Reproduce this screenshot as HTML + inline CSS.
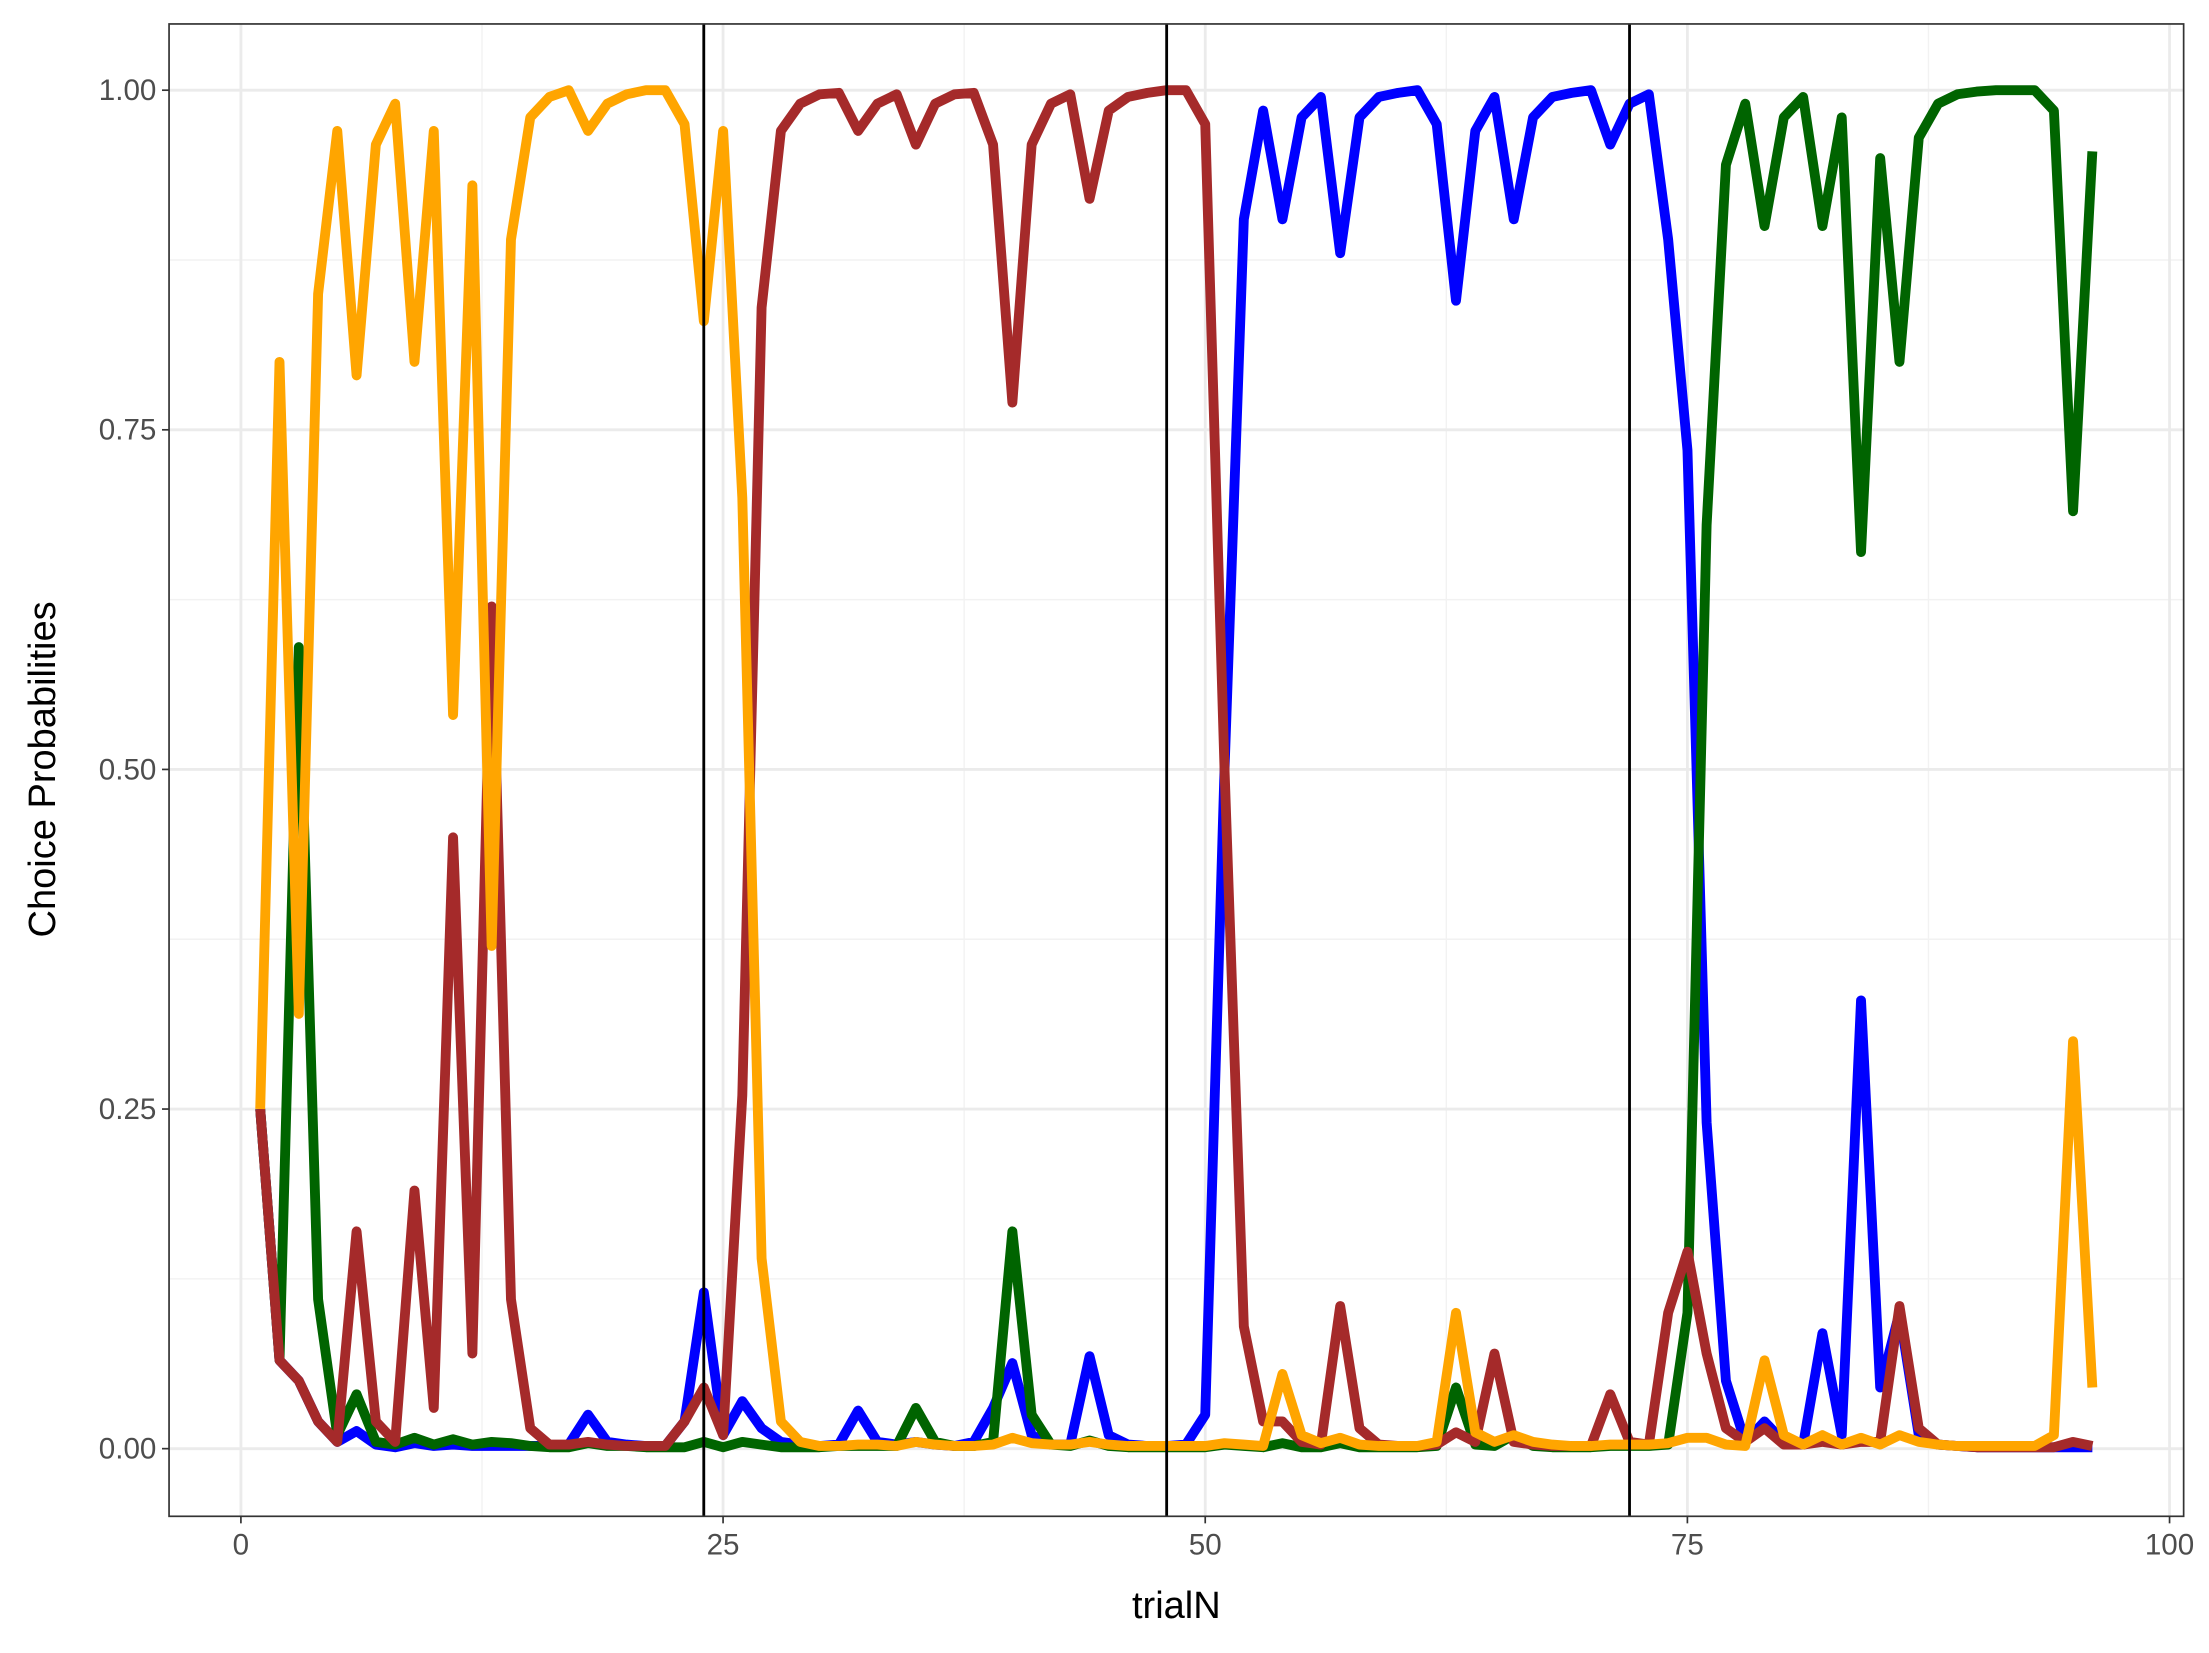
<!DOCTYPE html>
<html><head><meta charset="utf-8"><style>
html,body{margin:0;padding:0;background:#fff}
svg{display:block}
text{font-family:"Liberation Sans",sans-serif}
</style></head><body>
<svg id="chart" width="2209" height="1653" viewBox="0 0 1568 1173" preserveAspectRatio="none" xmlns="http://www.w3.org/2000/svg">
<g id="grid"></g>
<g id="lines"></g>
<g id="vlines"></g>
<rect x="120" y="17" width="1430" height="1059" fill="none" stroke="#333" stroke-width="1.2"/>
<g id="axes"></g>
<text x="835" y="1148" font-size="27" text-anchor="middle" fill="#000">trialN</text>
<text transform="translate(39,546) rotate(-90)" font-size="27" text-anchor="middle" fill="#000">Choice Probabilities</text>
</svg>
<script>
const xTicks=[0,25,50,75,100];
const yTicks=[0,0.25,0.5,0.75,1];
const yTickLabels=["0.00","0.25","0.50","0.75","1.00"];
const boundaries=[24,48,72];
const seriesColors=["blue","#006400","#a52a2a","orange"];
const blue=[.25,.065,.05,.02,.005,.013,.003,.001,.004,.002,.003,.002,.002,.002,.002,.002,.003,.025,.005,.003,.002,.002,.02,.115,.01,.035,.015,.005,.003,.002,.003,.028,.005,.003,.005,.003,.002,.005,.03,.063,.01,.003,.003,.068,.01,.003,.002,.002,.003,.025,.5,.905,.985,.905,.98,.995,.88,.98,.995,.998,1,.975,.845,.97,.995,.905,.98,.995,.998,1,.96,.99,.997,.89,.735,.24,.05,.005,.02,.005,.003,.085,.01,.33,.045,.1,.01,.003,.002,.001,.001,.001,.001,.001,.001,.001];
const green=[.25,.065,.59,.11,.01,.04,.005,.003,.008,.003,.007,.003,.005,.004,.002,.001,.001,.004,.002,.002,.001,.001,.001,.005,.001,.005,.003,.001,.001,.001,.002,.002,.002,.002,.03,.005,.002,.002,.005,.16,.025,.003,.002,.006,.002,.001,.001,.001,.001,.001,.003,.002,.001,.004,.001,.001,.004,.001,.001,.001,.001,.002,.045,.003,.002,.01,.002,.001,.001,.001,.002,.002,.002,.003,.1,.68,.945,.99,.9,.98,.995,.9,.98,.66,.95,.8,.965,.99,.997,.999,1,1,1,.985,.69,.955];
const brown=[.25,.065,.05,.02,.005,.16,.02,.005,.19,.03,.45,.07,.62,.11,.015,.003,.003,.005,.003,.002,.002,.002,.02,.045,.01,.26,.84,.97,.99,.997,.998,.97,.99,.997,.96,.99,.997,.998,.96,.77,.96,.99,.997,.92,.985,.995,.998,1,1,.975,.5,.09,.02,.02,.005,.003,.105,.015,.003,.002,.002,.003,.012,.005,.07,.005,.003,.002,.002,.002,.04,.005,.003,.1,.145,.07,.015,.005,.015,.003,.003,.005,.003,.005,.005,.105,.015,.003,.002,.001,.001,.001,.001,.001,.005,.002];
const orange=[.25,.8,.32,.85,.97,.79,.96,.99,.8,.97,.54,.93,.37,.89,.98,.995,1,.97,.99,.997,1,1,.975,.83,.97,.7,.14,.02,.005,.002,.002,.003,.003,.002,.005,.003,.002,.002,.003,.008,.004,.003,.003,.005,.003,.002,.002,.002,.002,.002,.004,.003,.002,.055,.01,.004,.008,.003,.002,.002,.002,.005,.1,.012,.005,.01,.005,.003,.002,.002,.003,.003,.003,.004,.008,.008,.003,.002,.065,.01,.003,.01,.003,.008,.003,.01,.005,.003,.002,.002,.002,.002,.002,.01,.3,.045];
const allSeries=[["blue-series",blue],["green-series",green],["brown-series",brown],["orange-series",orange]];
const NS="http://www.w3.org/2000/svg";
const L=120,R=1550,T=17,B=1076;
function X(v){return 171+13.69*v;}
function Y(v){return 1028-(1028-64)*v;}
function mk(tag,attrs,parent){const e=document.createElementNS(NS,tag);for(const k in attrs)e.setAttribute(k,attrs[k]);parent.appendChild(e);return e;}
const grid=document.getElementById('grid');
for(let v=12.5;v<100;v+=25){const e=mk('line',{x1:X(v),x2:X(v),y1:T,y2:B,stroke:'#f2f2f2','stroke-width':1},grid);

}
for(let v=0.125;v<1.1;v+=0.25){const e=mk('line',{x1:L,x2:R,y1:Y(v),y2:Y(v),stroke:'#f2f2f2','stroke-width':1},grid);

}
xTicks.forEach(v=>{const e=mk('line',{x1:X(v),x2:X(v),y1:T,y2:B,stroke:'#ebebeb','stroke-width':2},grid);

});
yTicks.forEach(v=>{const e=mk('line',{x1:L,x2:R,y1:Y(v),y2:Y(v),stroke:'#ebebeb','stroke-width':2},grid);

});
const lines=document.getElementById('lines');
allSeries.forEach((s,i)=>{const pts=s[1].map((v,j)=>X(j+1).toFixed(1)+','+Y(v).toFixed(1)).join(' ');
const e=mk('polyline',{points:pts,fill:'none',stroke:seriesColors[i],'stroke-width':7,'stroke-linejoin':'round','stroke-linecap':'butt'},lines);

});
const vl=document.getElementById('vlines');
boundaries.forEach(b=>{const e=mk('line',{x1:X(b),x2:X(b),y1:T,y2:B,stroke:'#000','stroke-width':2},vl);

});
const ax=document.getElementById('axes');
xTicks.forEach(v=>{mk('line',{x1:X(v),x2:X(v),y1:B,y2:B+5,stroke:'#333','stroke-width':1.2},ax);
const t=mk('text',{x:X(v),y:B+27,'font-size':21,'text-anchor':'middle',fill:'#4d4d4d'},ax);t.textContent=v;

});
yTicks.forEach((v,i)=>{mk('line',{x1:L-5,x2:L,y1:Y(v),y2:Y(v),stroke:'#333','stroke-width':1.2},ax);
const t=mk('text',{x:L-9,y:Y(v)+7,'font-size':21,'text-anchor':'end',fill:'#4d4d4d'},ax);t.textContent=yTickLabels[i];

});
</script>
</body></html>
